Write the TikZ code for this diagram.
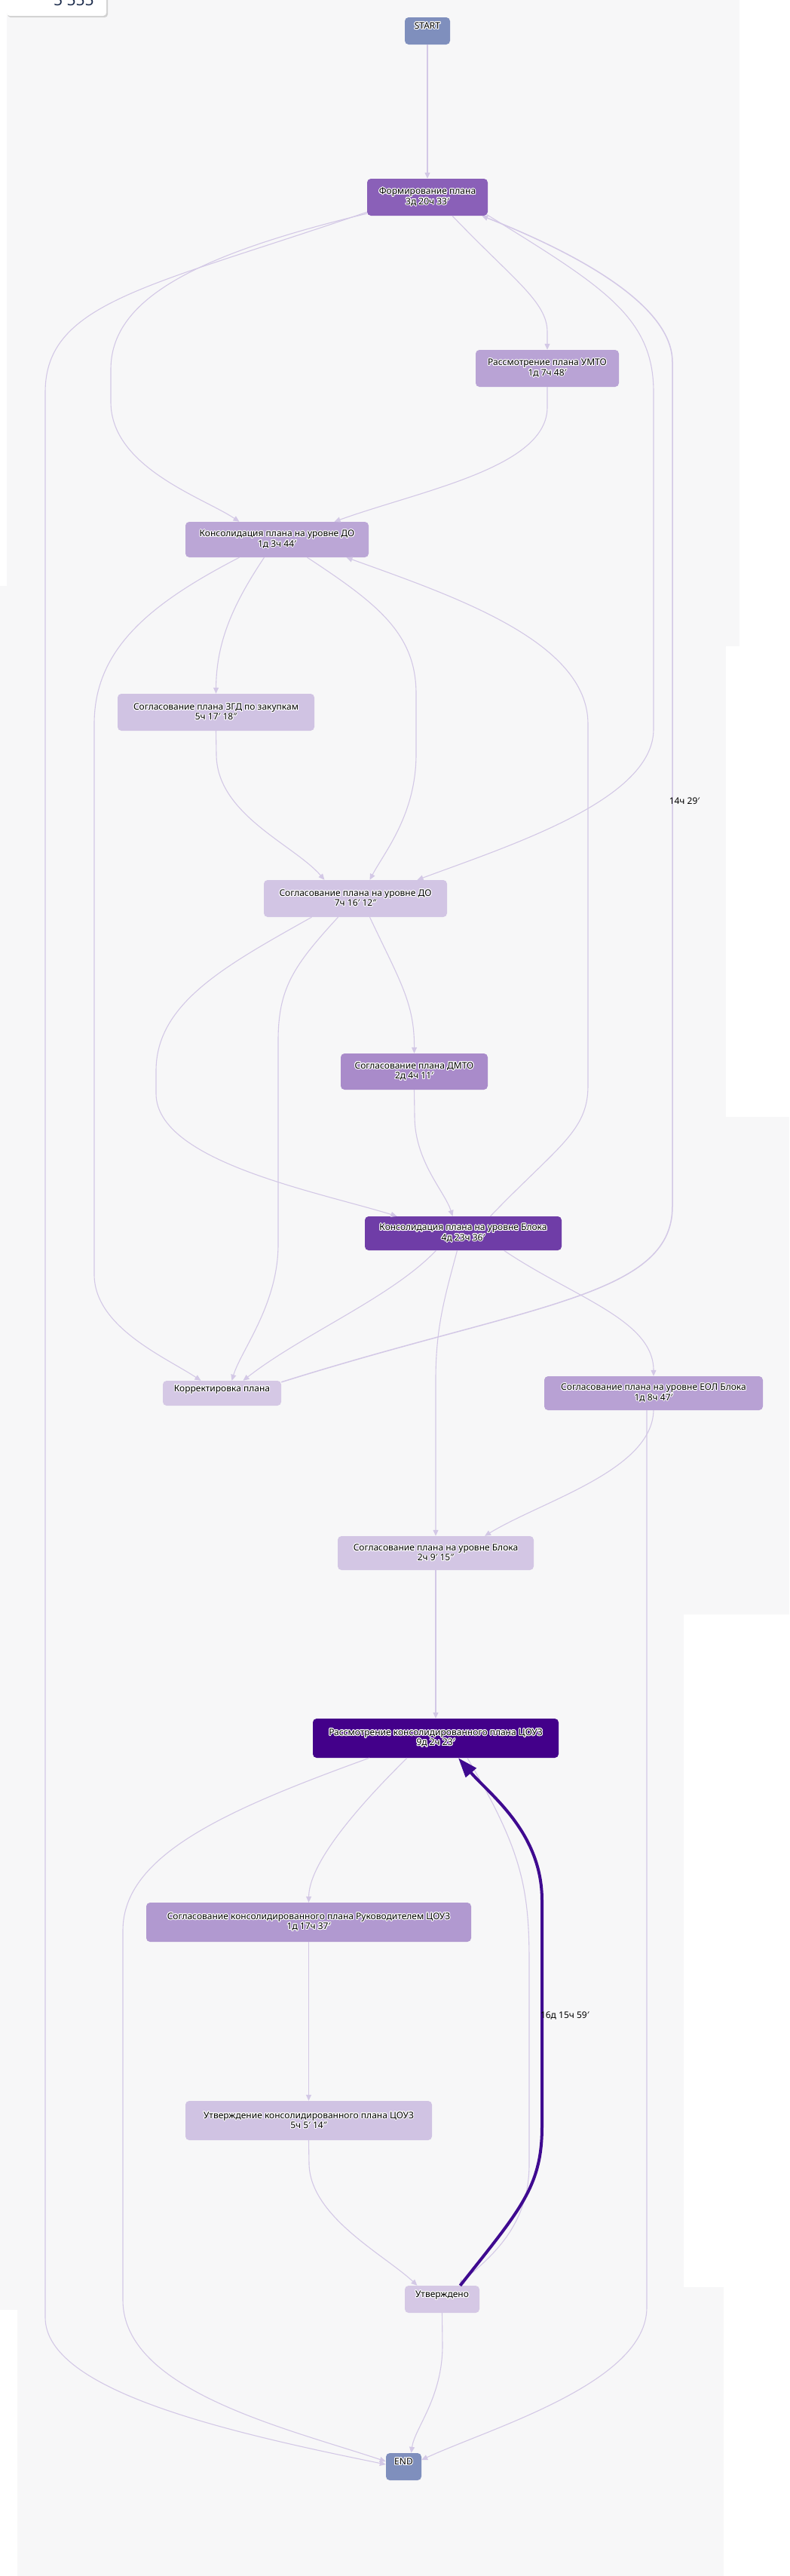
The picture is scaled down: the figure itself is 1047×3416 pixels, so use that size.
\documentclass[tikz,border=0pt]{standalone}
\usepackage{fontspec}
\setmainfont{Noto Sans}
\usepackage{contour}
\usetikzlibrary{arrows.meta}

\definecolor{bggray}{HTML}{F7F7F8}
\definecolor{startc}{HTML}{7F8FBD}
\definecolor{formc}{HTML}{8A60B8}
\definecolor{umtoc}{HTML}{B9A3D5}
\definecolor{konsdoc}{HTML}{BBA6D6}
\definecolor{zgdc}{HTML}{D0C3E3}
\definecolor{sogldoc}{HTML}{D2C5E4}
\definecolor{dmtoc}{HTML}{A98BCA}
\definecolor{konsblokc}{HTML}{6F3DA7}
\definecolor{korrc}{HTML}{D5C8E5}
\definecolor{eolc}{HTML}{B8A1D4}
\definecolor{soglblokc}{HTML}{D3C6E4}
\definecolor{couzc}{HTML}{43008A}
\definecolor{rukc}{HTML}{B199D0}
\definecolor{utvc}{HTML}{D0C3E3}
\definecolor{utvdc}{HTML}{D5C8E5}
\definecolor{flowc}{HTML}{D3C8E6}
\definecolor{hotc}{HTML}{3F0A90}
\definecolor{navyc}{HTML}{1B2B4B}

\contourlength{1pt}
\contournumber{16}
\newcommand{\halo}[1]{\contour{white}{#1}}

\begin{document}
\begin{tikzpicture}[x=1pt, y=-1pt,
    act/.style={rounded corners=5pt, inner sep=2pt, align=center, font=\fontsize{12}{13.3}\selectfont},
    flow/.style={draw=flowc, line width=1.1pt, -{Triangle[length=8pt,width=7pt]}},
    hot/.style={draw=hotc, line width=4pt, -{Triangle[length=26pt,width=18pt]}},
    lbl/.style={font=\fontsize{12}{13.3}\selectfont, inner sep=0pt}]
    \useasboundingbox (0,0) rectangle (1047,3416);

    % background tiles
    \fill[white] (0,0) rectangle (1047,3416);
    \fill[bggray] (9,0) rectangle (981,857);
    \fill[bggray] (0,777) rectangle (963,1481);
    \fill[bggray] (0,1481) rectangle (1047,2141);
    \fill[bggray] (0,2141) rectangle (907,3063);
    \fill[bggray] (23,3033) rectangle (960,3416);

    % counter box, cut at the top
    \fill[black!18, rounded corners=4pt] (10,-12) rectangle (143,23);
    \fill[white, rounded corners=4pt] (9,-12) rectangle (141,21);
    \node[anchor=base, inner sep=0pt, text=navyc, font=\bfseries\fontsize{21}{21}\selectfont] (count) at (98,7.5) {5 555};

    % activities
    \node[act, fill=startc, minimum width=60pt, minimum height=36pt] (start) at (567,41) {\halo{START}\\\mbox{}};
    \node[act, fill=formc, minimum width=160pt, minimum height=49pt] (form) at (567,261.5) {\halo{Формирование плана}\\\halo{3д 20ч 33′}};
    \node[act, fill=umtoc, minimum width=190pt, minimum height=49pt] (umto) at (726,488.5) {\halo{Рассмотрение плана УМТО}\\\halo{1д 7ч 48′}};
    \node[act, fill=konsdoc, minimum width=243pt, minimum height=47pt] (konsdo) at (367.5,715.5) {\halo{Консолидация плана на уровне ДО}\\\halo{1д 3ч 44′}};
    \node[act, fill=zgdc, minimum width=261pt, minimum height=49pt] (zgd) at (286.5,944.5) {\halo{Согласование плана ЗГД по закупкам}\\\halo{5ч 17′ 18″}};
    \node[act, fill=sogldoc, minimum width=243pt, minimum height=49pt] (sogldo) at (471.5,1191.5) {\halo{Согласование плана на уровне ДО}\\\halo{7ч 16′ 12″}};
    \node[act, fill=dmtoc, minimum width=195pt, minimum height=48pt] (dmto) at (549.5,1421) {\halo{Согласование плана ДМТО}\\\halo{2д 4ч 11′}};
    \node[act, fill=konsblokc, minimum width=261pt, minimum height=45pt] (konsblok) at (614.5,1635.5) {\halo{Консолидация плана на уровне Блока}\\\halo{4д 23ч 36′}};
    \node[act, fill=korrc, minimum width=157pt, minimum height=33pt] (korr) at (294.5,1847.5) {\halo{Корректировка плана}\\\mbox{}};
    \node[act, fill=eolc, minimum width=290pt, minimum height=45pt] (eol) at (867,1847.5) {\halo{Согласование плана на уровне ЕОЛ Блока}\\\halo{1д 8ч 47′}};
    \node[act, fill=soglblokc, minimum width=260pt, minimum height=45pt] (soglblok) at (578,2059.5) {\halo{Согласование плана на уровне Блока}\\\halo{2ч 9′ 15″}};
    \node[act, fill=couzc, minimum width=326pt, minimum height=52pt] (couz) at (578,2305) {\halo{Рассмотрение консолидированного плана ЦОУЗ}\\\halo{9д 2ч 23′}};
    \node[act, fill=rukc, minimum width=431pt, minimum height=52pt] (ruk) at (409.5,2549) {\halo{Согласование консолидированного плана Руководителем ЦОУЗ}\\\halo{1д 17ч 37′}};
    \node[act, fill=utvc, minimum width=327pt, minimum height=52pt] (utv) at (409.5,2812) {\halo{Утверждение консолидированного плана ЦОУЗ}\\\halo{5ч 5′ 14″}};
    \node[act, fill=utvdc, minimum width=99pt, minimum height=36pt] (utvd) at (586.5,3049) {\halo{Утверждено}\\\mbox{}};
    \node[act, fill=startc, minimum width=47pt, minimum height=36pt] (end) at (535.5,3271) {\halo{END}\\\mbox{}};

    % transitions
    \draw[flow] (start) -- (form);
    \draw[flow] ([yshift=3pt]form.south west) .. controls (250,340) and (147,400) .. (147,490) -- (147,533) .. controls (147,620) and (270,660) .. ([xshift=-50pt]konsdo.north);
    \draw[flow] ([yshift=5pt]form.south west) .. controls (200,380) and (60,400) .. (60,520) -- (60,3073) .. controls (60,3170) and (300,3225) .. ([yshift=3pt]end.west);
    \draw[flow] ([xshift=33pt]form.south) .. controls (680,370) and (726,400) .. (726,440) -- (umto.north);
    \draw[flow] (umto.south) -- (726,540) .. controls (726,620) and (560,650) .. ([xshift=76pt]konsdo.north);
    \draw[flow] ([xshift=-2pt,yshift=2pt]form.south east) .. controls (800,380) and (867,420) .. (867,520) -- (867,967) .. controls (867,1060) and (680,1120) .. ([xshift=82pt]sogldo.north);
    \draw[flow, line width=1.5pt] ([yshift=-2pt]korr.north east) .. controls (700,1730) and (892,1720) .. (892,1600) -- node[lbl, pos=0.48, anchor=west, xshift=-5pt] {14ч 29′} (892,480) .. controls (892,400) and (750,330) .. ([xshift=-8pt]form.south east);
    \draw[flow] ([xshift=-50pt]konsdo.south) .. controls (200,800) and (125,860) .. (125,960) -- (125,1690) .. controls (125,1760) and (220,1800) .. ([xshift=-28pt]korr.north);
    \draw[flow] ([xshift=-17pt]konsdo.south) .. controls (310,800) and (287,850) .. (zgd.north);
    \draw[flow] ([xshift=40pt]konsdo.south) .. controls (500,800) and (552,840) .. (552,920) -- (552,1000) .. controls (552,1080) and (510,1130) .. ([xshift=19pt]sogldo.north);
    \draw[flow] ([xshift=36pt]konsblok.north) .. controls (740,1520) and (780,1500) .. (780,1440) -- (780,960) .. controls (780,850) and (600,790) .. ([xshift=92pt]konsdo.south);
    \draw[flow] (zgd.south) -- (287,1000) .. controls (287,1080) and (390,1120) .. ([xshift=-41pt]sogldo.north);
    \draw[flow] ([xshift=-58pt]sogldo.south) .. controls (300,1280) and (207,1330) .. (207,1420) -- (207,1450) .. controls (207,1540) and (420,1580) .. ([xshift=-88pt]konsblok.north);
    \draw[flow] ([xshift=-23pt]sogldo.south) .. controls (390,1280) and (369,1310) .. (369,1380) -- (369,1650) .. controls (369,1730) and (320,1790) .. ([xshift=13pt]korr.north);
    \draw[flow] ([xshift=19pt]sogldo.south) .. controls (530,1300) and (550,1330) .. (dmto.north);
    \draw[flow] (dmto.south) -- (550,1480) .. controls (550,1540) and (590,1580) .. ([xshift=-14pt]konsblok.north);
    \draw[flow] ([xshift=-36pt]konsblok.south) .. controls (520,1720) and (400,1770) .. ([xshift=28pt]korr.north);
    \draw[flow] ([xshift=-8pt]konsblok.south) .. controls (590,1720) and (578,1760) .. (578,1830) -- (soglblok.north);
    \draw[flow] ([xshift=54pt]konsblok.south) .. controls (760,1720) and (867,1750) .. (eol.north);
    \draw[flow] (eol.south) .. controls (865,1950) and (720,1990) .. ([xshift=65pt]soglblok.north);
    \draw[flow] ([xshift=-9pt]eol.south) .. controls (858,1900) and (858,1920) .. (858,1960) -- (858,3060) .. controls (858,3160) and (650,3220) .. ([yshift=9pt]end.east);
    \draw[flow] (soglblok) -- (couz);
    \draw[flow] ([xshift=-88pt]couz.south) .. controls (300,2400) and (163,2460) .. (163,2560) -- (163,3050) .. controls (163,3170) and (380,3220) .. ([yshift=7pt]end.west);
    \draw[flow] ([xshift=-38pt]couz.south) .. controls (450,2420) and (410,2480) .. (ruk.north);
    \draw[flow] ([xshift=42pt]couz.south) .. controls (690,2450) and (702,2500) .. (702,2600) -- (702,2870) .. controls (702,2960) and (640,3000) .. ([xshift=22pt]utvd.north);
    \draw[flow] (ruk) -- (utv);
    \draw[flow] (utv.south) -- (410,2870) .. controls (412,2940) and (510,2990) .. ([xshift=-33pt]utvd.north);
    \draw[flow] (utvd.south) -- (587,3110) .. controls (587,3180) and (550,3220) .. ([xshift=10pt]end.north);
    \draw[hot] ([xshift=24pt]utvd.north) .. controls (690,2930) and (719,2900) .. (719,2820) -- node[lbl, pos=0.49, anchor=west, xshift=-4pt] {16д 15ч 59′} (719,2520) .. controls (719,2430) and (650,2380) .. ([xshift=30pt]couz.south);
\end{tikzpicture}
\end{document}
